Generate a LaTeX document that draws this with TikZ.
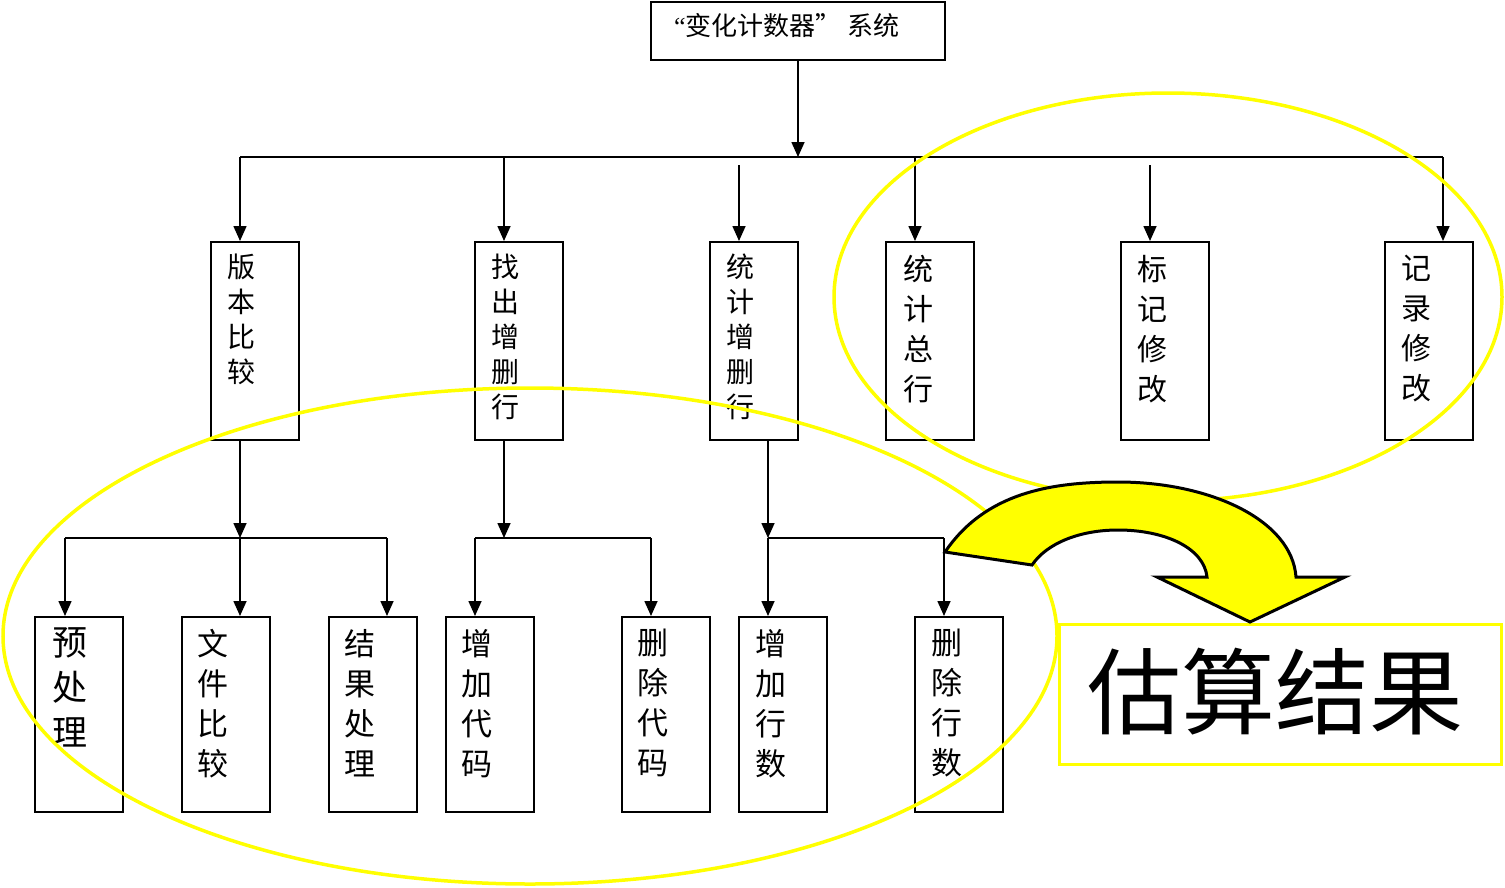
\documentclass[tikz,border=0pt]{standalone}
\usepackage{fontspec}
\setmainfont{Noto Sans CJK SC}
\newfontfamily\latinq{Liberation Serif}
\usetikzlibrary{arrows.meta}
\definecolor{yel}{RGB}{255,255,0}
\tikzset{
  box/.style={draw=black, line width=2pt, minimum width=88, minimum height=198, inner sep=0, fill=none},
  ln/.style={draw=black, line width=1.6pt},
  arr/.style={ln, -{Triangle[width=13pt,length=15pt]}},
  lbl/.style={inner sep=0, anchor=north, align=center},
  lblA/.style={lbl, font=\fontsize{28}{35}\selectfont},
  lblB/.style={lbl, font=\fontsize{30}{40}\selectfont},
  lblC/.style={lbl, font=\fontsize{31}{40}\selectfont},
  lblD/.style={lbl, font=\fontsize{35}{45}\selectfont},
  yring/.style={draw=yel, line width=3.5pt},
}
\begin{document}
\begin{tikzpicture}[x=1pt,y=-1pt]
\useasboundingbox (0,0) rectangle (1505,887);
% top box
\node[draw=black, line width=2pt, minimum width=294, minimum height=58, inner sep=0] (top) at (798,31) {};
\node[inner sep=0, font=\fontsize{26}{30}\selectfont] (toptxt) at (787,26) {{\latinq “}变化计数器”\hspace{6pt}系统};
% level 2 boxes
\node[box] (b1) at (255,341) {};
\node[box] (b2) at (519,341) {};
\node[box] (b3) at (754,341) {};
\node[box] (b4) at (930,341) {};
\node[box] (b5) at (1165,341) {};
\node[box] (b6) at (1429,341) {};
% level 3 boxes
\node[box, minimum height=195] (c1) at (79,714.5) {};
\node[box, minimum height=195] (c2) at (226,714.5) {};
\node[box, minimum height=195] (c3) at (373,714.5) {};
\node[box, minimum height=195] (c4) at (490,714.5) {};
\node[box, minimum height=195] (c5) at (666,714.5) {};
\node[box, minimum height=195] (c6) at (783,714.5) {};
\node[box, minimum height=195] (c7) at (959,714.5) {};
% labels
\node[lblA] (t1) at (241,254) {版\\本\\比\\较};
\node[lblA] (t2) at (505,254) {找\\出\\增\\删\\行};
\node[lblA] (t3) at (740,254) {统\\计\\增\\删\\行};
\node[lblB] (t4) at (918,255) {统\\计\\总\\行};
\node[lblB] (t5) at (1152,255) {标\\记\\修\\改};
\node[lblB] (t6) at (1416,255) {记\\录\\修\\改};
\node[lblD] (u1) at (70,627) {预\\处\\理};
\node[lblC] (u2) at (213,629) {文\\件\\比\\较};
\node[lblC] (u3) at (360,629) {结\\果\\处\\理};
\node[lblC] (u4) at (477,629) {增\\加\\代\\码};
\node[lblC] (u5) at (653,629) {删\\除\\代\\码};
\node[lblC] (u6) at (771,629) {增\\加\\行\\数};
\node[lblC] (u7) at (947,629) {删\\除\\行\\数};
% top bus
\coordinate (busT) at (798,157);
\coordinate (busL) at (240,157);
\coordinate (busR) at (1443,157);
\draw[arr] (top.south) -- (busT);
\draw[ln] (busL) -- (busR);
\draw[arr] (busL) -- (busL |- b1.north);
\draw[arr] (504,157) coordinate (j2) -- (j2 |- b2.north);
\draw[arr] (739,165) coordinate (j3) -- (j3 |- b3.north);
\draw[arr] (915,157) coordinate (j4) -- (j4 |- b4.north);
\draw[arr] (1150,165) coordinate (j5) -- (j5 |- b5.north);
\draw[arr] (busR) -- (busR |- b6.north);
% level 3 group 1
\coordinate (g1) at (240,538);
\draw[arr] (g1 |- b1.south) -- (g1);
\draw[ln] (65,538) coordinate (g1L) -- (387,538) coordinate (g1R);
\draw[arr] (g1L) -- (g1L |- c1.north);
\draw[arr] (g1) -- (g1 |- c2.north);
\draw[arr] (g1R) -- (g1R |- c3.north);
% group 2
\coordinate (g2) at (504,538);
\draw[arr] (g2 |- b2.south) -- (g2);
\draw[ln] (475,538) coordinate (g2L) -- (651,538) coordinate (g2R);
\draw[arr] (g2L) -- (g2L |- c4.north);
\draw[arr] (g2R) -- (g2R |- c5.north);
% group 3
\coordinate (g3) at (768,538);
\draw[arr] (g3 |- b3.south) -- (g3);
\draw[ln] (g3) -- (944,538) coordinate (g3R);
\draw[arr] (g3) -- (g3 |- c6.north);
\draw[arr] (g3R) -- (g3R |- c7.north);
% yellow rings
\draw[yring] (1168,297) ellipse [x radius=334, y radius=204];
\draw[yring] (530,636) ellipse [x radius=527, y radius=248];
% result box
\node[draw=yel, line width=3.5pt, minimum width=442, minimum height=140, inner sep=0] (res) at (1280.5,694.5) {};
\node[inner sep=0, font=\fontsize{94}{100}\selectfont] (restxt) at (1275,692) {估算结果};
% curved arrow
\draw[draw=black, fill=yel, line width=3pt, line join=miter]
  (945,552) .. controls (985,493) and (1050,482) .. (1118,482)
  .. controls (1210,482) and (1292,520) .. (1296,577)
  -- (1345,577) -- (1250,622) -- (1157,577) -- (1207,577)
  .. controls (1204,548) and (1165,530) .. (1118,530)
  .. controls (1080,530) and (1047,543) .. (1032,565) -- cycle;
\end{tikzpicture}
\end{document}
